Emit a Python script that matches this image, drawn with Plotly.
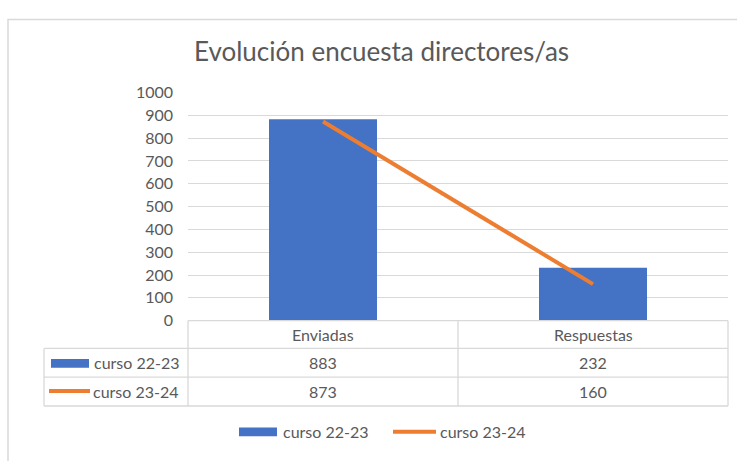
import plotly.graph_objects as go

categories = ["Enviadas", "Respuestas"]
series_names = ["curso 22-23", "curso 23-24"]
values_2223 = [883, 232]
values_2324 = [873, 160]
title_text = "Evolución encuesta directores/as"

W, H = 737, 461
FONT = "Lato"
TXT = "#595959"
GRID = "#d9d9d9"
BLUE = "#4472C4"
ORANGE = "#ED7D31"

def px(x):
    return x / W

def py(y):
    return 1 - y / H

PL, PR, PT, PB = 188, 728, 86, 324

fig = go.Figure()
fig.add_trace(go.Bar(x=categories, y=values_2223, name=series_names[0],
                     marker=dict(color=BLUE, line=dict(width=0)), width=0.4,
                     showlegend=False))
fig.add_trace(go.Scatter(x=categories, y=values_2324, name=series_names[1],
                         mode="lines", line=dict(color=ORANGE, width=4),
                         showlegend=False))

shapes = []
shapes.append(dict(type="rect", xref="paper", yref="paper",
                   x0=px(8), x1=px(760), y0=py(480), y1=py(10),
                   line=dict(color=GRID, width=1.5), fillcolor="rgba(0,0,0,0)", layer="below"))

def hline(y, x0, x1, color=GRID):
    shapes.append(dict(type="line", xref="paper", yref="paper", x0=px(x0), x1=px(x1),
                       y0=py(y), y1=py(y), line=dict(color=color, width=1.3)))

def vline(x, y0, y1):
    shapes.append(dict(type="line", xref="paper", yref="paper", x0=px(x), x1=px(x),
                       y0=py(y0), y1=py(y1), line=dict(color=GRID, width=1.3)))

hline(PB, PL, PR)
for yy in (353, 383, 413):
    hline(yy, 44, PR)
vline(PL, PB, 413)
vline(458, PB, 413)
vline(PR, PB, 413)
vline(44, 353, 413)

shapes.append(dict(type="rect", xref="paper", yref="paper", x0=px(51), x1=px(89),
                   y0=py(373), y1=py(364), fillcolor=BLUE, line=dict(width=0)))
shapes.append(dict(type="line", xref="paper", yref="paper", x0=px(49), x1=px(90),
                   y0=py(397.5), y1=py(397.5), line=dict(color=ORANGE, width=4)))
shapes.append(dict(type="rect", xref="paper", yref="paper", x0=px(239), x1=px(277),
                   y0=py(444.5), y1=py(435.5), fillcolor=BLUE, line=dict(width=0)))
shapes.append(dict(type="line", xref="paper", yref="paper", x0=px(393), x1=px(436),
                   y0=py(440), y1=py(440), line=dict(color=ORANGE, width=4)))

annotations = []

def txt(s, x, y, anchor="center", size=16):
    annotations.append(dict(text=s, xref="paper", yref="paper", x=px(x), y=py(y),
                            xanchor=anchor, yanchor="middle", showarrow=False,
                            font=dict(family=FONT, size=size, color=TXT)))

col_centers = [323, 593]
for i, c in enumerate(categories):
    txt(c, col_centers[i], 338)
    txt(str(values_2223[i]), col_centers[i], 368)
    txt(str(values_2324[i]), col_centers[i], 398)
txt(series_names[0], 92, 368, "left")
txt(series_names[1], 91, 398, "left")
txt(series_names[0], 281, 440, "left")
txt(series_names[1], 438, 440, "left")
txt(title_text, 381, 43, "center", 26)

fig.update_layout(
    width=W, height=H, autosize=False,
    margin=dict(l=0, r=0, t=0, b=0),
    paper_bgcolor="white", plot_bgcolor="white",
    showlegend=False,
    shapes=shapes, annotations=annotations,
    xaxis=dict(domain=[px(PL), px(PR)], showticklabels=False, showgrid=False,
               zeroline=False, showline=False, ticks=""),
    yaxis=dict(domain=[py(PB), py(PT)], range=[0, 1000], dtick=100,
               showgrid=True, gridcolor=GRID, gridwidth=1.3, zeroline=False,
               showline=False, ticks="", ticklabelstandoff=14,
               tickfont=dict(family=FONT, size=16, color=TXT)),
    bargap=0.6,
)

post = ("var gd=document.getElementById('{plot_id}');"
        "gd.style.position='fixed';gd.style.top='0px';gd.style.left='0px';"
        "document.body.style.margin='0';document.body.style.overflow='hidden';"
        "document.documentElement.style.overflow='hidden';")

fig.write_html("out.html", config={"displayModeBar": False}, post_script=post)
